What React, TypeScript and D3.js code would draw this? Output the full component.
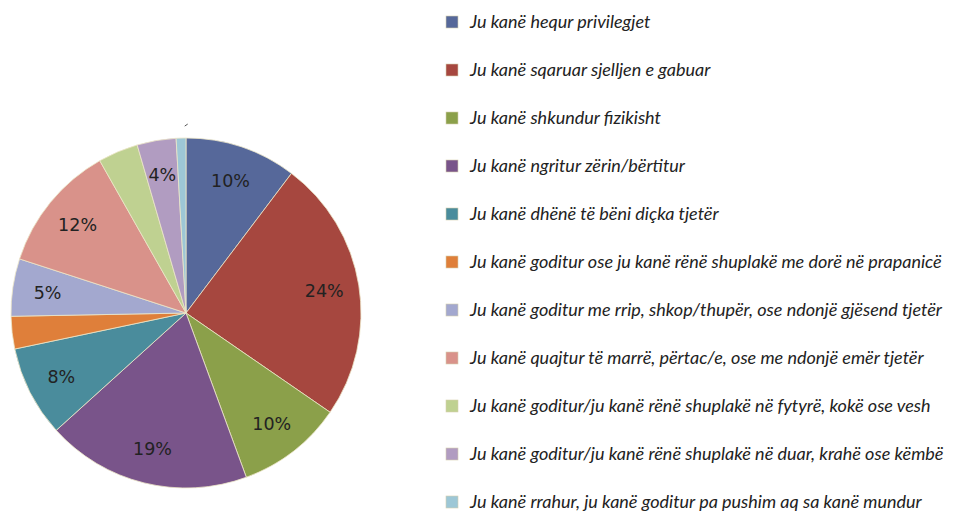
import React, { useEffect, useRef } from 'react';
import * as d3 from 'd3';

// slice shares (percent), clockwise from 12 o'clock
const categories = [
  'Ju kanë hequr privilegjet',
  'Ju kanë sqaruar sjelljen e gabuar',
  'Ju kanë shkundur fizikisht',
  'Ju kanë ngritur zërin/bërtitur',
  'Ju kanë dhënë të bëni diçka tjetër',
  'Ju kanë goditur ose ju kanë rënë shuplakë me dorë në prapanicë',
  'Ju kanë goditur me rrip, shkop/thupër, ose ndonjë gjësend tjetër',
  'Ju kanë quajtur të marrë, përtac/e, ose me ndonjë emër tjetër',
  'Ju kanë goditur/ju kanë rënë shuplakë në fytyrë, kokë ose vesh',
  'Ju kanë goditur/ju kanë rënë shuplakë në duar, krahë ose këmbë',
  'Ju kanë rrahur, ju kanë goditur pa pushim aq sa kanë mundur',
];
const values = [10.3, 24.3, 9.8, 18.9, 8.4, 3.0, 5.3, 11.8, 3.7, 3.6, 0.9];
const sliceLabels = ['10%', '24%', '10%', '19%', '8%', '', '5%', '12%', '', '4%', ''];
const colors = [
  '#56689a', '#a6473f', '#8ba04a', '#79548a', '#4a8c9c', '#df7f3a',
  '#a3a8cf', '#d9928a', '#bfd191', '#b19cc1', '#9dc7d6',
];

const W = 970;
const H = 515;

function App() {
  const ref = useRef<SVGSVGElement>(null);

  useEffect(() => {
    const svg = d3.select(ref.current);
    svg.selectAll('*').remove();

    const cx = 186, cy = 313, r = 175;
    const pie = d3.pie<number>().sort(null).value(d => d);
    const arcs = pie(values);
    const arc = d3.arc<d3.PieArcDatum<number>>().innerRadius(0).outerRadius(r);
    const labelArc = d3.arc<d3.PieArcDatum<number>>().innerRadius(140).outerRadius(140);

    const g = svg.append('g').attr('transform', `translate(${cx},${cy})`);
    g.selectAll('path')
      .data(arcs)
      .enter()
      .append('path')
      .attr('d', arc)
      .attr('fill', (d, i) => colors[i])
      .attr('stroke', '#ece6c8')
      .attr('stroke-width', 0.8);

    g.selectAll('text.pct')
      .data(arcs)
      .enter()
      .append('text')
      .attr('class', 'pct')
      .attr('transform', d => `translate(${labelArc.centroid(d)})`)
      .attr('text-anchor', 'middle')
      .attr('dy', '0.36em')
      .style('font-family', 'DejaVu Sans, Verdana, sans-serif')
      .style('font-size', '17.5px')
      .style('fill', '#222')
      .text((d, i) => sliceLabels[i]);

    // tiny leader tick for the smallest slice
    const last = arcs[arcs.length - 1];
    const a = (last.startAngle + last.endAngle) / 2;
    g.append('line')
      .attr('x1', Math.sin(a) * (r + 12) + 4)
      .attr('y1', -Math.cos(a) * (r + 12))
      .attr('x2', Math.sin(a) * (r + 12) + 7)
      .attr('y2', -Math.cos(a) * (r + 14))
      .attr('stroke', '#555')
      .attr('stroke-width', 1);

    // legend
    const y = d3.scalePoint<string>().domain(categories).range([22, 502]);
    const lg = svg.append('g');
    const item = lg.selectAll('g')
      .data(categories)
      .enter()
      .append('g')
      .attr('transform', d => `translate(446,${y(d)})`);
    item.append('rect')
      .attr('x', 0)
      .attr('y', -6)
      .attr('width', 12)
      .attr('height', 12)
      .attr('fill', (d, i) => colors[i])
      .attr('stroke', '#d8d0b0')
      .attr('stroke-width', 0.6);
    item.append('text')
      .attr('x', 24)
      .attr('dy', '0.35em')
      .style('font-family', 'Lato, sans-serif')
      .style('font-style', 'italic')
      .style('font-size', '18px')
      .style('fill', '#222')
      .text(d => d);
  }, []);

  return (
    <svg
      ref={ref}
      width={W}
      height={H}
      style={{ position: 'absolute', left: 0, top: 0, background: '#fff' }}
    />
  );
}

export default App;
